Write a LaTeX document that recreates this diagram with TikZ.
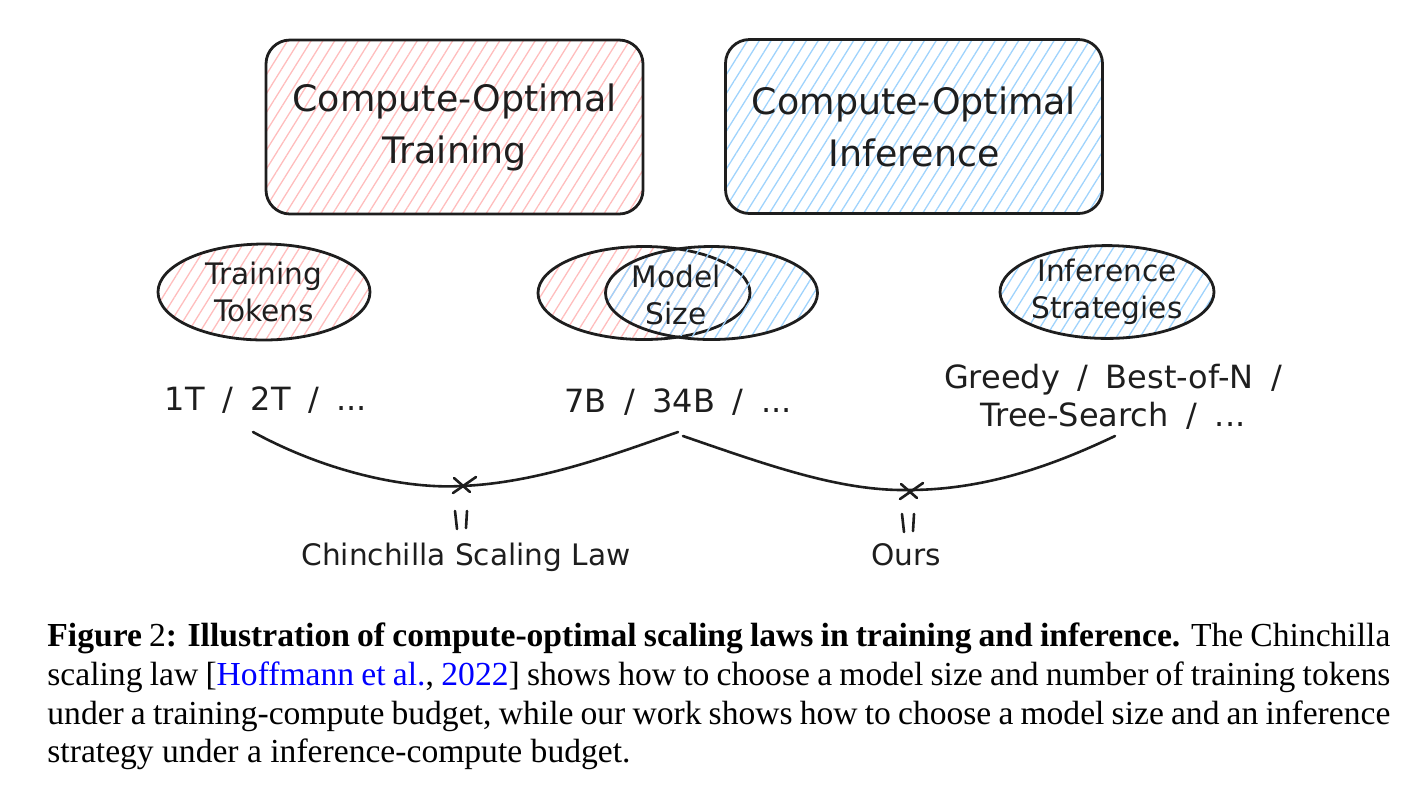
\documentclass[tikz,border=0pt]{standalone}
\usepackage{fontspec}
\setmainfont{Liberation Serif}
\newfontfamily\hand{DejaVu Sans}
\usetikzlibrary{shapes.geometric,patterns.meta}
\definecolor{ink}{HTML}{1E1E1E}
\definecolor{pinkh}{HTML}{FFBDBD}
\definecolor{blueh}{HTML}{9FD3FC}
\definecolor{linkblue}{HTML}{0000FF}
\newcommand\valfont{\hand\fontsize{16}{19}\selectfont\spaceskip=0.55em\relax}
\begin{document}
\begin{tikzpicture}[x=0.5pt,y=-0.5pt,
  sketch/.style={draw=ink, line width=1.4pt},
  pinkfill/.style={pattern={Lines[angle=58,distance=5pt,line width=0.65pt]}, pattern color=pinkh},
  bluefill/.style={pattern={Lines[angle=58,distance=5pt,line width=0.65pt]}, pattern color=blueh},
  bigbox/.style={sketch, rounded corners=12pt, minimum width=188.5pt, minimum height=87pt, inner sep=0pt, align=center, font=\hand\fontsize{18.2}{26}\selectfont, text=ink},
  oval/.style={sketch, ellipse, minimum width=106pt, minimum height=47pt, inner sep=0pt, align=center, font=\hand\fontsize{14.8}{18.5}\selectfont, text=ink},
  handtext/.style={font=\hand\fontsize{14.8}{19}\selectfont, text=ink, align=center, inner sep=0pt},
  valtext/.style={font=\valfont, text=ink, align=center, inner sep=0pt},
  ovaltext/.style={font=\hand\fontsize{14.8}{18.5}\selectfont, text=ink, align=center, inner sep=0pt},
  curve/.style={draw=ink, line width=1.3pt, line cap=round},
  capline/.style={anchor=base west, inner sep=0pt, font=\fontsize{16.8}{19.5}\selectfont, text=black},
]
\useasboundingbox (0,0) rectangle (1402,784);

% top boxes
\node[bigbox, pinkfill] (train) at (454.5,127) {Compute-Optimal\\Training};
\node[bigbox, bluefill] (infer) at (914,126.5) {Compute-Optimal\\Inference};

% ellipses
\node[oval, pinkfill, minimum height=48pt] (tok) at (264,292) {Training\\Tokens};
\node[oval, pinkfill, minimum height=46.5pt] (msl) at (644,293) {};
\node[oval, bluefill, minimum height=46.5pt] (msr) at (711.5,293) {};
\node[ovaltext] (ms) at (676,295) {Model\\Size};
\node[oval, bluefill, minimum width=107pt, minimum height=46pt] (inf) at (1107,292) {Inference\\Strategies};

% values
\node[valtext] (tokv) at (266,400) {1T / 2T / ...};
\node[valtext] (msv) at (678,402) {7B / 34B / ...};
\node[valtext] (infv) at (1113,397) {Greedy / Best-of-N /\\Tree-Search / ...};

% curves
\coordinate (c1s) at (253,432);
\coordinate (c1m) at (461,486);
\coordinate (c1e) at (678,432);
\coordinate (c2s) at (683,436);
\coordinate (c2m) at (908,490);
\coordinate (c2e) at (1115,436);
\draw[curve] (c1s) .. controls (330,474) and (410,489) .. (c1m) .. controls (540,483) and (620,452) .. (c1e);
\draw[curve] (c2s) .. controls (770,466) and (840,491) .. (c2m) .. controls (990,490) and (1060,462) .. (c2e);

% x marks
\draw[curve] (454,478) -- (470,492);
\draw[curve] (453,493) -- (476,477);
\draw[curve] (901,484) -- (917,498);
\draw[curve] (900,499) -- (923,483);

% equal marks
\draw[curve] (455,511) -- (457,529);
\draw[curve] (467,511) -- (466,528);
\draw[curve] (902,514) -- (904,532);
\draw[curve] (914,514) -- (913,531);

% bottom labels
\node[handtext] (chin) at (466,557) {Chinchilla Scaling Law};
\node[handtext] (ours) at (906,555) {Ours};

% caption
\node[capline] (cap1) at (47,646) {\makebox[671.5pt][s]{\bfseries Figure\mdseries{} 2\bfseries: Illustration of compute-optimal scaling laws in training and inference.\mdseries{} The Chinchilla}};
\node[capline] (cap2) at (47,685) {\makebox[671.5pt][s]{scaling law [\textcolor{linkblue}{Hoffmann et al.}, \textcolor{linkblue}{2022}] shows how to choose a model size and number of training tokens}};
\node[capline] (cap3) at (47,724) {\makebox[671.5pt][s]{under a training-compute budget, while our work shows how to choose a model size and an inference}};
\node[capline] (cap4) at (47,762) {strategy under a inference-compute budget.};
\end{tikzpicture}
\end{document}
